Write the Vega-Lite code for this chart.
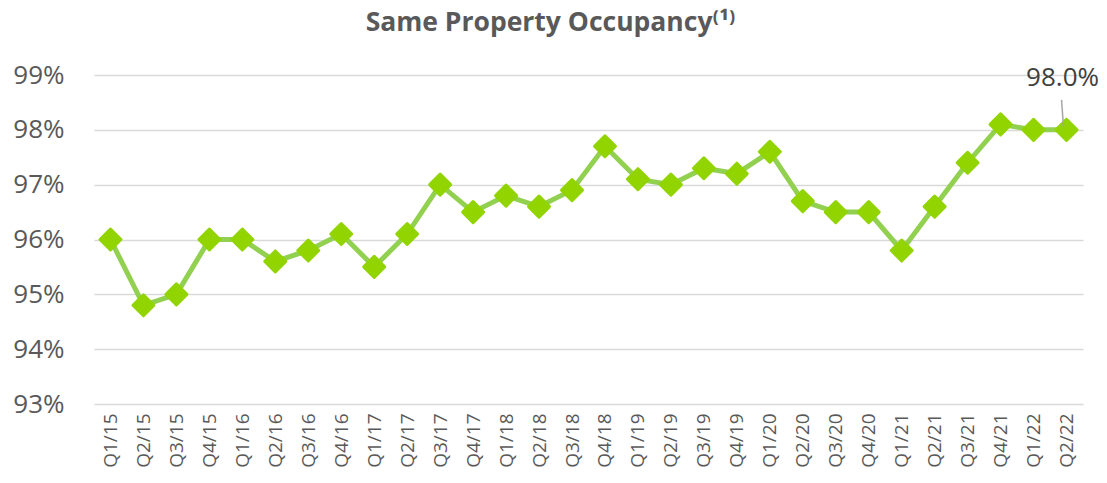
{
  "$schema": "https://vega.github.io/schema/vega-lite/v6.json",
  "autosize": {"type": "none"},
  "width": 989,
  "height": 329,
  "padding": {"left": 94, "top": 75, "right": 24, "bottom": 79},
  "background": "white",
  "config": {
    "view": {"stroke": null},
    "font": "Lato"
  },
  "title": {
    "text": "Same Property Occupancy⁽¹⁾",
    "font": "Open Sans",
    "fontSize": 26.5,
    "fontWeight": "bold",
    "color": "#595959",
    "anchor": "middle",
    "dx": -38,
    "offset": 26
  },
  "datasets": {
    "occ": [
      {"q": "Q1/15", "v": 96.0},
      {"q": "Q2/15", "v": 94.8},
      {"q": "Q3/15", "v": 95.0},
      {"q": "Q4/15", "v": 96.0},
      {"q": "Q1/16", "v": 96.0},
      {"q": "Q2/16", "v": 95.6},
      {"q": "Q3/16", "v": 95.8},
      {"q": "Q4/16", "v": 96.1},
      {"q": "Q1/17", "v": 95.5},
      {"q": "Q2/17", "v": 96.1},
      {"q": "Q3/17", "v": 97.0},
      {"q": "Q4/17", "v": 96.5},
      {"q": "Q1/18", "v": 96.8},
      {"q": "Q2/18", "v": 96.6},
      {"q": "Q3/18", "v": 96.9},
      {"q": "Q4/18", "v": 97.7},
      {"q": "Q1/19", "v": 97.1},
      {"q": "Q2/19", "v": 97.0},
      {"q": "Q3/19", "v": 97.3},
      {"q": "Q4/19", "v": 97.2},
      {"q": "Q1/20", "v": 97.6},
      {"q": "Q2/20", "v": 96.7},
      {"q": "Q3/20", "v": 96.5},
      {"q": "Q4/20", "v": 96.5},
      {"q": "Q1/21", "v": 95.8},
      {"q": "Q2/21", "v": 96.6},
      {"q": "Q3/21", "v": 97.4},
      {"q": "Q4/21", "v": 98.1},
      {"q": "Q1/22", "v": 98.0},
      {"q": "Q2/22", "v": 98.0}
    ],
    "lab": [
      {"q": "Q2/22", "v": 98.0, "label": "98.0%"}
    ]
  },
  "encoding": {
    "x": {
      "field": "q",
      "type": "ordinal",
      "sort": null,
      "scale": {"type": "point", "padding": 0.5},
      "axis": {
        "title": null,
        "domain": false,
        "ticks": false,
        "labelAngle": -90,
        "labelFont": "Open Sans",
        "labelFontSize": 19,
        "labelColor": "#595959",
        "labelPadding": 9
      }
    },
    "y": {
      "field": "v",
      "type": "quantitative",
      "scale": {"domain": [93, 99], "nice": false, "zero": false},
      "axis": {
        "title": null,
        "values": [93, 94, 95, 96, 97, 98, 99],
        "labelExpr": "datum.value + '%'",
        "domain": false,
        "ticks": false,
        "labelFont": "Open Sans",
        "labelFontSize": 26,
        "labelColor": "#595959",
        "labelPadding": 30,
        "gridColor": "#D9D9D9",
        "gridWidth": 1.5
      }
    }
  },
  "layer": [
    {
      "data": {"name": "occ"},
      "mark": {"type": "line", "color": "#92D050", "strokeWidth": 5}
    },
    {
      "data": {"name": "occ"},
      "mark": {"type": "point", "shape": "diamond", "filled": true, "opacity": 1, "color": "#92D400", "size": 440, "strokeJoin": "round", "stroke": "#92D400", "strokeWidth": 3}
    },
    {
      "data": {"name": "lab"},
      "mark": {"type": "rule", "color": "#A6A6A6", "strokeWidth": 1.5, "yOffset": -3, "y2Offset": -30, "xOffset": -3, "x2Offset": -5},
      "encoding": {"y2": {"field": "v"}, "x2": {"field": "q"}}
    },
    {
      "data": {"name": "lab"},
      "mark": {"type": "text", "font": "Open Sans", "fontSize": 26, "color": "#404040", "dy": -52, "dx": -4, "baseline": "middle"},
      "encoding": {"text": {"field": "label"}}
    }
  ]
}
